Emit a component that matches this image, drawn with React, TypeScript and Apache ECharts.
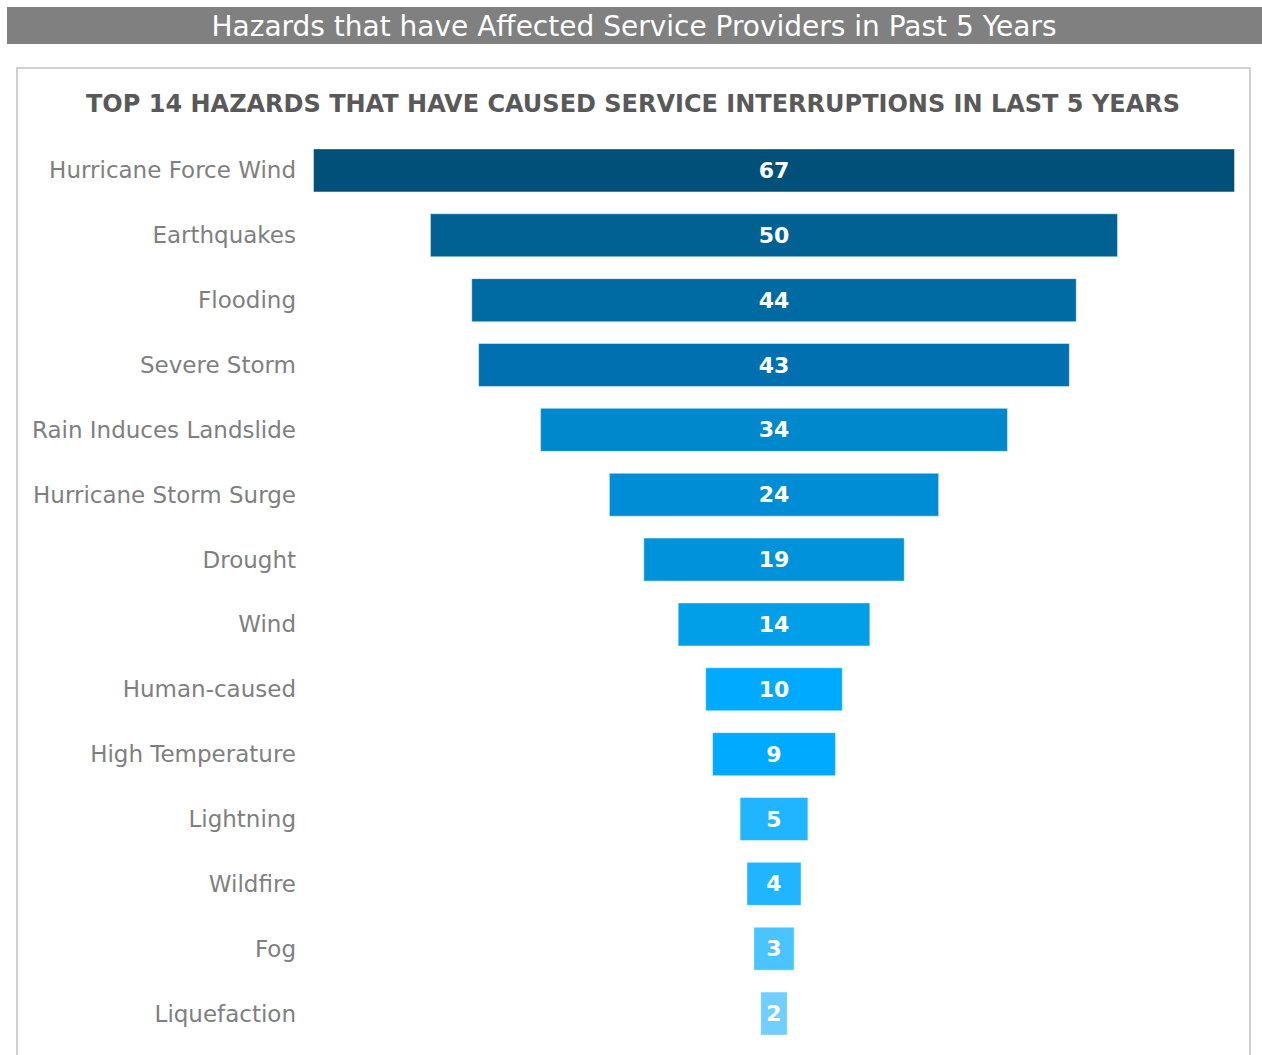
import React, { useEffect, useRef } from "react";
import * as echarts from "echarts";

const headerTitle = "Hazards that have Affected Service Providers in Past 5 Years";
const chartTitle = "TOP 14 HAZARDS THAT HAVE CAUSED SERVICE INTERRUPTIONS IN LAST 5 YEARS";

const categories = [
  "Hurricane Force Wind",
  "Earthquakes",
  "Flooding",
  "Severe Storm",
  "Rain Induces Landslide",
  "Hurricane Storm Surge",
  "Drought",
  "Wind",
  "Human-caused",
  "High Temperature",
  "Lightning",
  "Wildfire",
  "Fog",
  "Liquefaction",
];

const values = [67, 50, 44, 43, 34, 24, 19, 14, 10, 9, 5, 4, 3, 2];

const palette = [
  "#00507A",
  "#006192",
  "#006AA3",
  "#0070B0",
  "#0088CC",
  "#008DD5",
  "#0093DC",
  "#009FE8",
  "#00AAFF",
  "#00AAFF",
  "#22B5FF",
  "#22B5FF",
  "#4AC4FF",
  "#72CEFF",
];

const FONT = "'DejaVu Sans', sans-serif";

export default function App() {
  const ref = useRef<HTMLDivElement>(null);

  useEffect(() => {
    if (!ref.current) return;
    const chart = echarts.init(ref.current, null, { renderer: "svg" });
    const maxVal = Math.max(...values);
    const offsets = values.map((v) => (maxVal - v) / 2);

    chart.setOption({
      animation: false,
      backgroundColor: "#ffffff",
      graphic: [
        {
          type: "rect",
          shape: { x: 7, y: 7, width: 1255, height: 37 },
          style: { fill: "#808080" },
          silent: true,
        },
        {
          type: "text",
          x: 634,
          y: 26,
          style: {
            text: headerTitle,
            fill: "#ffffff",
            font: `28px ${FONT}`,
            textAlign: "center",
            textVerticalAlign: "middle",
          },
          silent: true,
        },
        {
          type: "rect",
          shape: { x: 17, y: 68, width: 1233, height: 1000 },
          style: { fill: "none", stroke: "#d0d0d0", lineWidth: 2 },
          silent: true,
        },
        {
          type: "text",
          x: 633,
          y: 104,
          style: {
            text: chartTitle,
            fill: "#595959",
            font: `bold 24px ${FONT}`,
            textAlign: "center",
            textVerticalAlign: "middle",
          },
          silent: true,
        },
      ],
      grid: {
        left: 313,
        right: 27,
        top: 138,
        height: 908,
        containLabel: false,
      },
      xAxis: {
        type: "value",
        min: 0,
        max: maxVal,
        show: false,
      },
      yAxis: {
        type: "category",
        data: categories,
        inverse: true,
        axisLine: { show: false },
        axisTick: { show: false },
        splitLine: { show: false },
        axisLabel: {
          color: "#7f7f7f",
          fontSize: 23,
          fontFamily: FONT,
          margin: 17,
        },
      },
      series: [
        {
          type: "bar",
          stack: "funnel",
          data: offsets,
          barWidth: 44,
          itemStyle: { color: "transparent" },
          silent: true,
          label: { show: false },
        },
        {
          type: "bar",
          stack: "funnel",
          barWidth: 44,
          data: values.map((v, i) => ({
            value: v,
            itemStyle: { color: palette[i] },
          })),
          itemStyle: {
            borderColor: "rgba(255,255,255,0.45)",
            borderWidth: 1,
          },
          label: {
            show: true,
            position: "inside",
            color: "#ffffff",
            fontSize: 22,
            fontWeight: "bold",
            fontFamily: FONT,
          },
        },
      ],
    });

    return () => {
      chart.dispose();
    };
  }, []);

  return (
    <div
      ref={ref}
      style={{ position: "absolute", left: 0, top: 0, width: 1262, height: 1055 }}
    />
  );
}
